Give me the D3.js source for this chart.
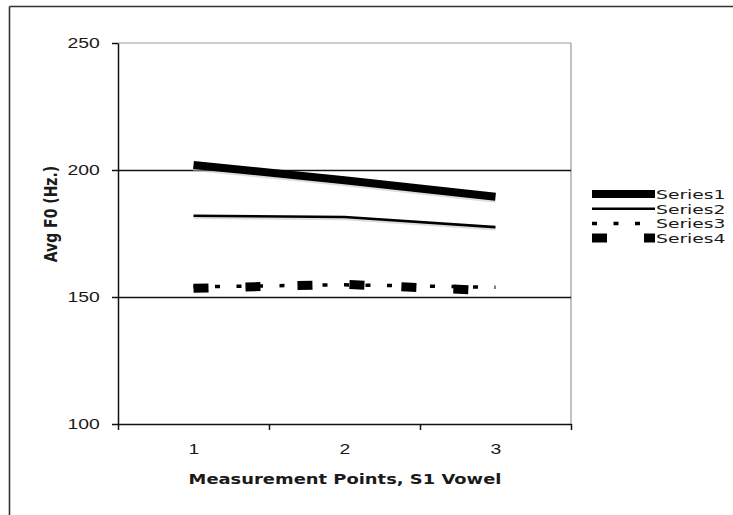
<!DOCTYPE html>
<meta charset="utf-8">
<script src="https://cdn.jsdelivr.net/npm/d3@7/dist/d3.min.js"></script>
<style>
  body { margin: 0; background: #fff; overflow: hidden; }
  svg { font-family: "DejaVu Sans", sans-serif; display: block; }
</style>
<body>
<div id="chart"></div>
<script>
// chart values
var categories = [1, 2, 3];
var series1 = [202, 196, 189.5];
var series2 = [182, 181.5, 177.5];
var series3 = [154, 154.8, 153.8];
var series4 = [153.4, 155, 152.4];
var seriesNames = ["Series1", "Series2", "Series3", "Series4"];
var yTicks = [100, 150, 200, 250];

var W = 733, H = 515;
var SX = 1.25; // the picture is stretched sideways, so is the text

var svg = d3.select("#chart").append("svg").attr("width", W).attr("height", H);

// outer frame, only top and left edges are in the picture
svg.append("line").attr("x1", 9.5).attr("x2", W).attr("y1", 6.5).attr("y2", 6.5)
    .style("stroke", "#333").style("stroke-width", 1.6);
svg.append("line").attr("x1", 9.5).attr("x2", 9.5).attr("y1", 6.5).attr("y2", H)
    .style("stroke", "#333").style("stroke-width", 1.6);

var x = d3.scaleLinear().domain([0.5, 3.5]).range([118, 571]);
var y = d3.scaleLinear().domain([100, 250]).range([424, 43]);

// plot area top / right border (grey)
svg.append("line").attr("x1", x(0.5)).attr("x2", x(3.5)).attr("y1", y(250)).attr("y2", y(250))
    .style("stroke", "#999").style("stroke-width", 1.2);
svg.append("line").attr("x1", x(3.5)).attr("x2", x(3.5)).attr("y1", y(250)).attr("y2", y(100))
    .style("stroke", "#999").style("stroke-width", 1.2);

// black gridlines at 150 and 200
svg.selectAll(".grid").data([150, 200]).enter().append("line")
    .attr("x1", x(0.5)).attr("x2", x(3.5))
    .attr("y1", function (d) { return y(d) + 0.5; }).attr("y2", function (d) { return y(d) + 0.5; })
    .style("stroke", "#111").style("stroke-width", 1.3);

// y axis
var gy = svg.append("g").attr("transform", "translate(118,0)")
    .call(d3.axisLeft(y).tickValues(yTicks).tickSize(6).tickSizeOuter(0).tickPadding(8.5));
gy.selectAll("text").style("font-size", "15.5px").style("fill", "#1a1a1a")
    .attr("transform", "scale(" + SX + ",1)");

// x axis: ticks between categories, labels under categories
var gx = svg.append("g").attr("transform", "translate(0,424)")
    .call(d3.axisBottom(x).tickValues([0.5, 1.5, 2.5, 3.5]).tickSize(6).tickSizeOuter(0).tickFormat(""));
var gxl = svg.append("g").attr("transform", "translate(0,424)")
    .call(d3.axisBottom(x).tickValues(categories).tickSize(0).tickPadding(19).tickFormat(d3.format("d")));
gxl.select(".domain").remove();
gxl.selectAll("text").style("font-size", "15.5px").style("fill", "#1a1a1a")
    .attr("transform", "scale(" + SX + ",1)");
svg.selectAll(".domain, .tick line").style("stroke", "#111").style("stroke-width", 1.5);

// axis titles
svg.append("text").attr("transform", "translate(345,484) scale(1.28,1)")
    .attr("text-anchor", "middle").style("font-size", "14px").style("font-weight", "bold")
    .style("fill", "#1a1a1a").text("Measurement Points, S1 Vowel");
svg.append("text").attr("transform", "translate(57,214) rotate(-90) scale(1,1.3)")
    .attr("text-anchor", "middle").style("font-size", "14px").style("font-weight", "bold")
    .style("fill", "#1a1a1a").text("Avg F0 (Hz.)");

var styles = [
    { w: 8, dash: null },
    { w: 2.6, dash: null },
    { w: 3.5, dash: "5,16.5" },
    { w: 9, dash: "15,37" }
];
var allSeries = [series1, series2, series3, series4];

var line = d3.line()
    .x(function (d, i) { return x(categories[i]); })
    .y(function (d) { return y(d); });

// faint shadow under the solid lines like the original
allSeries.forEach(function (s, k) {
    if (k > 1) return;
    svg.append("path").datum(s).attr("d", line).attr("transform", "translate(0,2)")
        .style("fill", "none").style("stroke", "#bbb").style("stroke-width", styles[k].w)
        .style("opacity", 0.5);
});

allSeries.forEach(function (s, k) {
    svg.append("path").datum(s).attr("d", line)
        .style("fill", "none").style("stroke", "#000")
        .style("stroke-width", styles[k].w)
        .style("stroke-dasharray", styles[k].dash)
        .style("stroke-linejoin", "round");
});

// legend
var lg = svg.append("g");
seriesNames.forEach(function (name, k) {
    var ly = 194 + k * 14.7;
    lg.append("line").attr("x1", 592).attr("x2", 655).attr("y1", ly).attr("y2", ly)
        .style("stroke", "#000").style("stroke-width", styles[k].w)
        .style("stroke-dasharray", styles[k].dash);
    lg.append("text").attr("transform", "translate(656," + (ly + 5) + ") scale(1.5,1)")
        .style("font-size", "12.5px").style("fill", "#1a1a1a").text(name);
});
</script>
</body>
